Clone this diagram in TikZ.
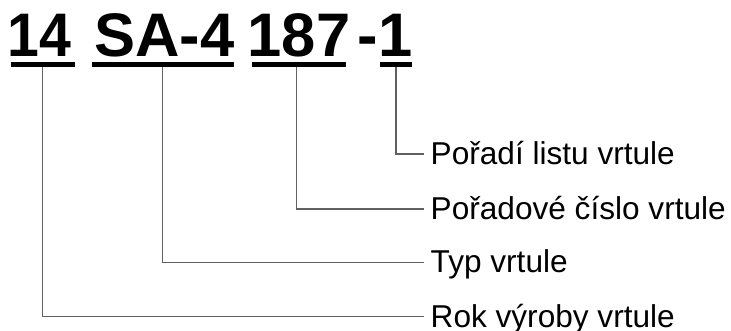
\documentclass[tikz,border=0pt]{standalone}
\usepackage{fontspec}
\setmainfont{Liberation Sans}
\begin{document}
\begin{tikzpicture}[x=1pt,y=-1pt,
  code/.style={font=\fontsize{61.5}{70}\selectfont\bfseries, inner sep=0pt, anchor=base},
  bar/.style={fill=black, draw=none, minimum height=5.2pt, inner sep=0pt},
  lbl/.style={font=\fontsize{31.6}{38}\selectfont, anchor=west, inner xsep=6.5pt, inner ysep=0pt, text height=20.6pt, text depth=0pt},
  conn/.style={draw=black!62, line width=1.4pt}]
\useasboundingbox (0,0) rectangle (731,331);
% code groups
\node[code, xscale=0.93, transform shape] (c1) at (39.8,56.4) {14};
\node[code] (c2) at (164.2,56.4) {SA-4};
\node[code] (c3) at (299,56.4) {187};
\node[code] (c4) at (385,56.4) {-1};
% underline bars
\node[bar, minimum width=64pt] (b1) at (43,64.2) {};
\node[bar, minimum width=142pt] (b2) at (163,64.2) {};
\node[bar, minimum width=94pt] (b3) at (299,64.2) {};
\node[bar, minimum width=32pt] (b4) at (396,64.2) {};
% labels
\node[lbl] (l4) at (424,154) {Pořadí listu vrtule};
\node[lbl] (l3) at (424,209) {Pořadové číslo vrtule};
\node[lbl] (l2) at (424,262.3) {Typ vrtule};
\node[lbl] (l1) at (424,316.7) {Rok výroby vrtule};
% connectors
\draw[conn] (b4.south -| 395.8,0) |- (l4.west);
\draw[conn] (b3.south -| 296.7,0) |- (l3.west);
\draw[conn] (b2.south -| 162.7,0) |- (l2.west);
\draw[conn] (b1.south -| 42.7,0) |- (l1.west);
\end{tikzpicture}
\end{document}
